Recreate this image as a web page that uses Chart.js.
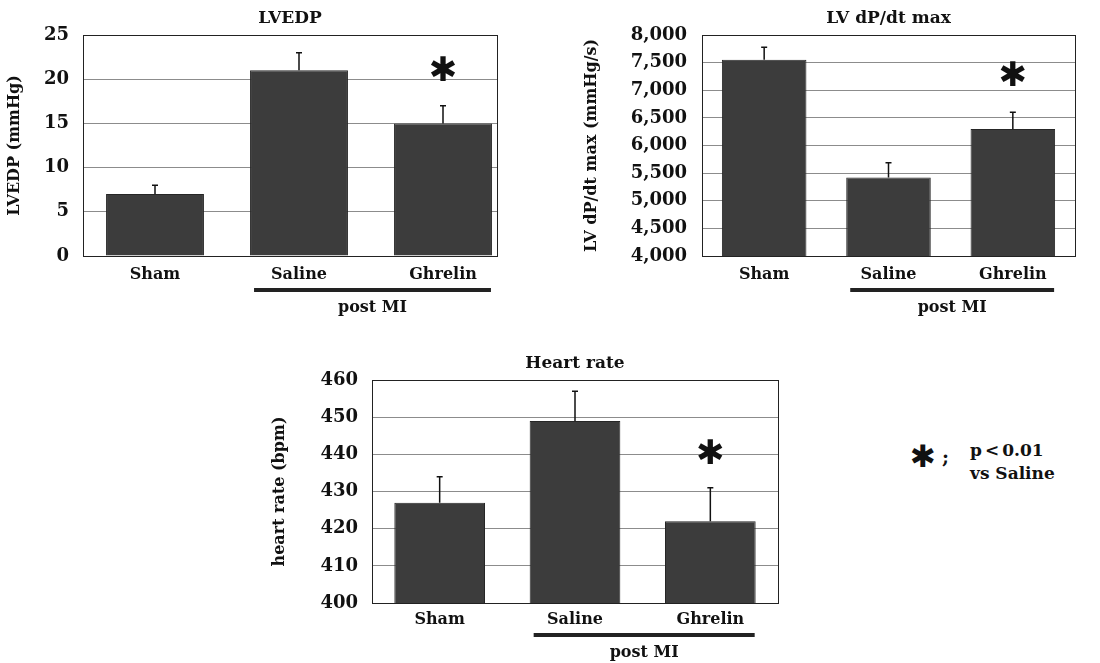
<!DOCTYPE html>
<html>
<head>
<meta charset="utf-8">
<script src="https://cdn.jsdelivr.net/npm/chart.js@4.4.0/dist/chart.umd.min.js"></script>
<style>
  body { margin: 0; background: #fff; width: 1100px; height: 663px; position: relative; overflow: hidden; }
  .box { position: absolute; }
  .legend { position: absolute; left: 910px; top: 436px; font-family: "DejaVu Serif", serif; font-weight: bold; color: #111; }
  .legend .star { position: absolute; left: 0; top: 2px; font-family: "DejaVu Sans", sans-serif; font-size: 31px; }
  .legend .semi { position: absolute; left: 32px; top: 10px; font-size: 19px; }
  .legend .txt { position: absolute; left: 60px; top: 3px; font-size: 17px; line-height: 23px; white-space: nowrap; }
  .legend .lt { padding: 0 3px; }
</style>
</head>
<body>
<div class="box" style="left:0;top:0;width:520px;height:320px"><canvas id="lvedp"></canvas></div>
<div class="box" style="left:560px;top:0;width:540px;height:320px"><canvas id="dpdt"></canvas></div>
<div class="box" style="left:260px;top:340px;width:540px;height:323px"><canvas id="hr"></canvas></div>
<div class="legend">
  <span class="star">✱</span><span class="semi">;</span>
  <div class="txt">p<span class="lt">&lt;</span>0.01<br>vs Saline</div>
</div>
<script>
// groups and values
var groups = ['Sham', 'Saline', 'Ghrelin'];

var lvedp = [7, 21, 15];
var lvedpErr = [1, 2, 2];
var lvedpStar = [null, null, 20.8];

var dpdt = [7550, 5420, 6300];
var dpdtErr = [230, 270, 300];
var dpdtStar = [null, null, 7240];

var heartRate = [427, 449, 422];
var heartRateErr = [7, 8, 9];
var heartRateStar = [null, null, 439.8];

var serif = '"DejaVu Serif", serif';

// error bars, asterisks, frame, title and the "post MI" bracket
var decor = {
    id: 'decor',
    beforeDatasetsDraw: function(chart, args, o) {
        // the first panel's frame is cut before the end of the last category
        if (!o.cut) return;
        var a = chart.chartArea;
        chart.ctx.save();
        chart.ctx.fillStyle = '#fff';
        chart.ctx.fillRect(a.right - o.cut + 1, a.top - 2, o.cut + 2, a.bottom - a.top + 5);
        chart.ctx.restore();
    },
    afterDatasetsDraw: function(chart, args, o) {
        var ctx = chart.ctx;
        var y = chart.scales.y;
        var a = chart.chartArea;
        var bars = chart.getDatasetMeta(0).data;
        ctx.save();

        ctx.strokeStyle = '#111';
        ctx.lineWidth = 1.5;
        bars.forEach(function(b, i) {
            var top = y.getPixelForValue(o.values[i] + o.errors[i]);
            ctx.beginPath();
            ctx.moveTo(b.x, b.y);
            ctx.lineTo(b.x, top);
            ctx.moveTo(b.x - 3, top);
            ctx.lineTo(b.x + 3, top);
            ctx.stroke();
        });

        var right = a.right - (o.cut || 0);
        ctx.lineWidth = 1;
        ctx.strokeStyle = '#222';
        ctx.strokeRect(a.left + 0.5, a.top + 0.5, right - a.left, a.bottom - a.top);

        ctx.fillStyle = '#111';
        ctx.textAlign = 'center';
        ctx.textBaseline = 'middle';
        ctx.font = '34px "DejaVu Sans", sans-serif';
        o.stars.forEach(function(s, i) {
            if (s != null) ctx.fillText('✱', bars[i].x, y.getPixelForValue(s));
        });

        ctx.font = 'bold 17px ' + serif;
        ctx.fillText(o.title, (a.left + right) / 2, a.top - 16);

        var l = bars[1].x - bars[1].width / 2 + 4;
        var r = bars[2].x + bars[2].width / 2 - 1;
        ctx.lineWidth = 4;
        ctx.beginPath();
        ctx.moveTo(l, a.bottom + o.lineGap);
        ctx.lineTo(r, a.bottom + o.lineGap);
        ctx.stroke();
        ctx.font = 'bold 16px ' + serif;
        ctx.fillText('post MI', (l + r) / 2, a.bottom + o.lineGap + 18);

        ctx.restore();
    }
};

function makeChart(id, s) {
    new Chart(document.getElementById(id), {
        type: 'bar',
        data: {
            labels: groups,
            datasets: [{
                data: s.values,
                backgroundColor: '#3c3c3c',
                borderColor: '#262626',
                borderWidth: 1,
                categoryPercentage: 1,
                barPercentage: s.barPct
            }]
        },
        plugins: [decor],
        options: {
            responsive: true,
            maintainAspectRatio: false,
            animation: false,
            events: [],
            layout: { padding: { top: s.padTop, right: s.padRight, left: 0, bottom: 0 } },
            plugins: {
                legend: { display: false },
                tooltip: { enabled: false },
                decor: {
                    values: s.values, errors: s.errors, stars: s.stars,
                    title: s.title, lineGap: s.lineGap, cut: s.cut
                }
            },
            scales: {
                x: {
                    grid: { display: false, drawTicks: false },
                    border: { color: '#222' },
                    ticks: { color: '#111', padding: s.labelPad, font: { family: serif, size: 16, weight: 'bold' } },
                    afterFit: function(sc) { sc.height = s.xHeight; }
                },
                y: {
                    min: s.min,
                    max: s.max,
                    grid: { color: '#8c8c8c', lineWidth: 1, drawTicks: false },
                    border: { color: '#222' },
                    ticks: {
                        stepSize: s.step,
                        color: '#111',
                        padding: s.tickPad,
                        font: { family: serif, size: 18, weight: 'bold' },
                        callback: function(v) { return v.toLocaleString('en-US'); }
                    },
                    title: {
                        display: true,
                        text: s.yTitle,
                        color: '#111',
                        padding: { top: s.titlePad, bottom: 0 },
                        font: { family: serif, size: 16, weight: 'bold' }
                    },
                    afterFit: function(sc) { sc.width = s.yWidth; }
                }
            }
        }
    });
}

makeChart('lvedp', {
    values: lvedp, errors: lvedpErr, stars: lvedpStar, title: 'LVEDP',
    yTitle: 'LVEDP (mmHg)', min: 0, max: 25, step: 5,
    padTop: 35, padRight: 5, yWidth: 83, xHeight: 64, tickPad: 14,
    titlePad: 5, labelPad: 9, barPct: 0.68, lineGap: 34, cut: 18
});

makeChart('dpdt', {
    values: dpdt, errors: dpdtErr, stars: dpdtStar, title: 'LV dP/dt max',
    yTitle: 'LV dP/dt max (mmHg/s)', min: 4000, max: 8000, step: 500,
    padTop: 35, padRight: 25, yWidth: 142, xHeight: 64, tickPad: 15,
    titlePad: 22, labelPad: 9, barPct: 0.68, lineGap: 34, cut: 0
});

makeChart('hr', {
    values: heartRate, errors: heartRateErr, stars: heartRateStar, title: 'Heart rate',
    yTitle: 'heart rate (bpm)', min: 400, max: 460, step: 10,
    padTop: 40, padRight: 22, yWidth: 112, xHeight: 60, tickPad: 14,
    titlePad: 10, labelPad: 7, barPct: 0.67, lineGap: 32, cut: 0
});
</script>
</body>
</html>
